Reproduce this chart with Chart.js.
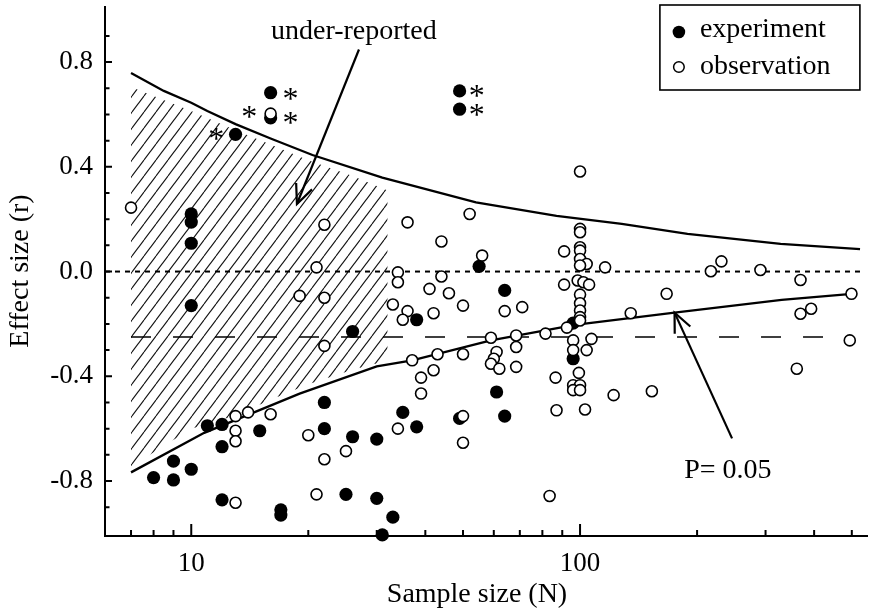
<!DOCTYPE html>
<html>
<head>
<meta charset="utf-8">
<script src="https://cdn.jsdelivr.net/npm/chart.js@4.4.1/dist/chart.umd.min.js"></script>
<style>
  html, body { margin: 0; padding: 0; background: #fff; }
  canvas { display: block; }
</style>
</head>
<body>
<canvas id="funnel-canvas" width="875" height="615"></canvas>
<script>
// sample size (N) and effect size (r)
var expN = [13, 16, 16, 49, 49, 10, 10, 10, 10, 55, 64, 38, 26, 96, 96, 61, 64, 49,
  22, 35, 38, 22, 26, 30, 25, 30, 33, 31, 11, 12, 12, 15, 9, 10, 8, 9, 12, 17, 17]
var expR = [0.524, 0.683, 0.587, 0.69, 0.62, 0.22, 0.189, 0.108, -0.13, 0.02, -0.072, -0.184, -0.229, -0.197, -0.333, -0.46, -0.552, -0.561,
  -0.50, -0.538, -0.593, -0.60, -0.631, -0.64, -0.851, -0.866, -0.938, -1.006, -0.589, -0.584, -0.669, -0.608, -0.724, -0.755, -0.787, -0.796, -0.872, -0.91, -0.93]

var obsN = [7, 16, 22, 36, 52, 44, 91, 56, 21, 34, 34, 44, 91, 41, 46, 19, 22,
  100, 116, 217, 231, 291, 369, 499, 167, 135, 369, 393, 494, 361, 153, 122, 103, 87, 107, 104, 83.5,
  13, 14, 16, 13, 13, 13, 50, 33, 36, 35, 42, 22, 37, 43, 50, 39, 42, 39,
  59, 61, 60, 59, 62, 34, 50, 50, 20, 25, 22, 21, 64, 71, 68.5, 81.5, 68.5, 68.5, 86.5,
  100, 100, 100, 100, 100, 104, 100, 98.6, 102, 105.5, 100, 100, 100, 100, 100,
  92.5, 96, 96, 99.3, 96, 100, 96, 100]
var obsR = [0.244, 0.603, 0.179, 0.188, 0.22, 0.115, 0.077, 0.061, 0.016, -0.003, -0.041, -0.019, -0.05, -0.066, -0.083, -0.093, -0.10,
  0.382, 0.016, 0.001, 0.039, 0.006, -0.032, -0.085, -0.085, -0.159, -0.161, -0.142, -0.263, -0.371, -0.457, -0.472, -0.527, -0.53, -0.257, -0.30, -0.857,
  -0.552, -0.538, -0.545, -0.608, -0.648, -0.883, -0.13, -0.126, -0.151, -0.184, -0.159, -0.284, -0.339, -0.316, -0.316, -0.405, -0.377, -0.466,
  -0.253, -0.307, -0.333, -0.352, -0.371, -0.60, -0.552, -0.654, -0.625, -0.686, -0.717, -0.851, -0.151, -0.136, -0.244, -0.237, -0.288, -0.364, -0.405,
  0.163, 0.150, 0.093, 0.08, 0.048, 0.029, 0.023, -0.034, -0.041, -0.05, -0.088, -0.121, -0.149, -0.174, -0.187,
  -0.214, -0.263, -0.30, -0.387, -0.434, -0.434, -0.453, -0.453]

// P = 0.05 boundaries
var upN = [7, 8.5, 10, 11, 13, 16, 20.5, 31, 54, 87, 128, 189, 328, 525]
var upR = [0.758, 0.69, 0.645, 0.613, 0.563, 0.508, 0.445, 0.359, 0.264, 0.213, 0.182, 0.144, 0.106, 0.086]
var loN = [7, 10.8, 19, 30, 37, 59, 97, 175, 330, 500]
var loR = [-0.767, -0.616, -0.466, -0.362, -0.339, -0.263, -0.204, -0.157, -0.108, -0.085]

// hatched "under-reported" area
var hatchN = [7, 10, 13, 16, 20, 26, 32]
var hatchTop = [0.705, 0.613, 0.54, 0.485, 0.425, 0.365, 0.31]
var hatchBot = [-0.745, -0.60, -0.55, -0.49, -0.43, -0.375, -0.34]

// reference lines
var zeroN = [6, 530]
var zeroR = [0, 0]
var meanN = [7, 490]
var meanR = [-0.25, -0.25]

// asterisks next to flagged studies
var astN = [11.6, 14.1, 18, 18, 54.2, 54.2]
var astR = [0.531, 0.613, 0.683, 0.59, 0.692, 0.62]

var xMajor = [10, 100]
var xMinor = [7, 8, 9, 20, 30, 40, 50, 60, 70, 80, 90, 200, 300, 400, 500]
var yMajor = [-0.8, -0.4, 0, 0.4, 0.8]
var yMinor = [-0.9, -0.7, -0.6, -0.5, -0.3, -0.2, -0.1, 0.1, 0.2, 0.3, 0.5, 0.6, 0.7, 0.9]

var serif = "'Liberation Serif', 'Times New Roman', serif"

function pts(ns, rs) {
  return ns.map(function (n, i) { return { x: n, y: rs[i] } })
}

function hatchPattern(ctx) {
  var c = document.createElement('canvas')
  c.width = 12
  c.height = 16
  var g = c.getContext('2d')
  g.strokeStyle = '#111'
  g.lineWidth = 1.1
  ;[-12, 0, 12].forEach(function (dx) {
    g.beginPath()
    g.moveTo(dx, 16)
    g.lineTo(dx + 12, 0)
    g.stroke()
  })
  return ctx.createPattern(c, 'repeat')
}

function arrow(ctx, x0, y0, x1, y1) {
  ctx.beginPath()
  ctx.moveTo(x0, y0)
  ctx.lineTo(x1, y1)
  ctx.stroke()
  var a = Math.atan2(y0 - y1, x0 - x1)
  var len = 21, spread = 0.42
  ctx.beginPath()
  ctx.moveTo(x1 + len * Math.cos(a - spread), y1 + len * Math.sin(a - spread))
  ctx.lineTo(x1, y1)
  ctx.lineTo(x1 + len * Math.cos(a + spread), y1 + len * Math.sin(a + spread))
  ctx.stroke()
}

var decor = {
  id: 'decor',
  afterDraw: function (chart) {
    var ctx = chart.ctx
    var xs = chart.scales.x, ys = chart.scales.y
    var area = chart.chartArea
    ctx.save()
    ctx.strokeStyle = '#000'
    ctx.fillStyle = '#000'

    // inward ticks
    ctx.lineWidth = 2
    ctx.beginPath()
    xMajor.forEach(function (v) {
      var x = xs.getPixelForValue(v)
      ctx.moveTo(x, area.bottom); ctx.lineTo(x, area.bottom - 12)
    })
    xMinor.forEach(function (v) {
      var x = xs.getPixelForValue(v)
      ctx.moveTo(x, area.bottom); ctx.lineTo(x, area.bottom - 6)
    })
    yMajor.forEach(function (v) {
      var y = ys.getPixelForValue(v)
      ctx.moveTo(area.left, y); ctx.lineTo(area.left + 7, y)
    })
    yMinor.forEach(function (v) {
      var y = ys.getPixelForValue(v)
      ctx.moveTo(area.left, y); ctx.lineTo(area.left + 4.5, y)
    })
    ctx.stroke()

    // axis titles
    ctx.font = '28px ' + serif
    ctx.textAlign = 'center'
    ctx.textBaseline = 'alphabetic'
    ctx.fillText('Sample size (N)', 477, 602)
    ctx.save()
    ctx.translate(28, 271)
    ctx.rotate(-Math.PI / 2)
    ctx.fillText('Effect size (r)', 0, 0)
    ctx.restore()

    // annotations
    ctx.fillText('under-reported', xs.getPixelForValue(26.2), ys.getPixelForValue(0.89))
    ctx.fillText('P= 0.05', xs.getPixelForValue(240), ys.getPixelForValue(-0.788))
    ctx.lineWidth = 2.2
    arrow(ctx, xs.getPixelForValue(27), ys.getPixelForValue(0.848), xs.getPixelForValue(18.7), ys.getPixelForValue(0.258))
    arrow(ctx, xs.getPixelForValue(246), ys.getPixelForValue(-0.637), xs.getPixelForValue(175), ys.getPixelForValue(-0.157))

    // asterisks
    ctx.font = '32px ' + serif
    astN.forEach(function (n, i) {
      ctx.fillText('*', xs.getPixelForValue(n), ys.getPixelForValue(astR[i]) + 16)
    })

    // legend
    var bx = area.right - 208, by = 5
    ctx.lineWidth = 1.6
    ctx.strokeRect(bx, by, 200, 85)
    ctx.beginPath()
    ctx.arc(bx + 19, by + 27, 6.3, 0, Math.PI * 2)
    ctx.fill()
    ctx.beginPath()
    ctx.arc(bx + 19, by + 62, 5.3, 0, Math.PI * 2)
    ctx.fillStyle = '#fff'
    ctx.fill()
    ctx.lineWidth = 1.5
    ctx.stroke()
    ctx.fillStyle = '#000'
    ctx.font = '28px ' + serif
    ctx.textAlign = 'left'
    ctx.fillText('experiment', bx + 40, by + 32)
    ctx.fillText('observation', bx + 40, by + 69)
    ctx.restore()
  }
}

var canvas = document.getElementById('funnel-canvas')
var ctx = canvas.getContext('2d')

var lineStyle = { showLine: true, pointRadius: 0, borderColor: '#000', borderWidth: 2.3, tension: 0, fill: false }

var funnelChart = new Chart(ctx, {
  type: 'scatter',
  data: {
    datasets: [
      {
        label: 'observation',
        data: pts(obsN, obsR),
        pointRadius: 5.5,
        pointBorderWidth: 1.6,
        backgroundColor: '#fff',
        borderColor: '#000',
        clip: false
      },
      {
        label: 'experiment',
        data: pts(expN, expR),
        pointRadius: 6.6,
        pointBorderWidth: 0,
        backgroundColor: '#000',
        borderColor: '#000',
        clip: false
      },
      Object.assign({ label: 'upper', data: pts(upN, upR) }, lineStyle),
      Object.assign({ label: 'lower', data: pts(loN, loR) }, lineStyle),
      Object.assign({ label: 'zero', data: pts(zeroN, zeroR) }, lineStyle, { borderWidth: 2, borderDash: [5, 5] }),
      Object.assign({ label: 'mean', data: pts(meanN, meanR) }, lineStyle, { borderWidth: 1.5, borderDash: [20, 22] }),
      {
        label: 'hatch-top',
        data: pts(hatchN, hatchTop),
        showLine: true,
        pointRadius: 0,
        borderColor: 'rgba(0,0,0,0)',
        borderWidth: 1,
        backgroundColor: hatchPattern(ctx),
        fill: '+1'
      },
      {
        label: 'hatch-bottom',
        data: pts(hatchN, hatchBot),
        showLine: true,
        pointRadius: 0,
        borderColor: 'rgba(0,0,0,0)',
        borderWidth: 1,
        fill: false
      }
    ]
  },
  options: {
    responsive: false,
    animation: false,
    events: [],
    layout: { padding: { top: 7, left: 0, right: 0, bottom: 0 } },
    plugins: {
      legend: { display: false },
      tooltip: { enabled: false }
    },
    scales: {
      x: {
        type: 'logarithmic',
        min: 6,
        max: 550,
        afterBuildTicks: function (s) { s.ticks = xMajor.map(function (v) { return { value: v } }) },
        afterFit: function (s) { s.height = 79; s.paddingLeft = 0; s.paddingRight = 0 },
        grid: { display: false, drawTicks: false },
        border: { display: true, color: '#000', width: 2 },
        ticks: {
          autoSkip: false,
          maxRotation: 0,
          padding: 12,
          color: '#000',
          font: { family: serif, size: 27 },
          callback: function (v) { return String(v) }
        }
      },
      y: {
        min: -1.01,
        max: 1.01,
        afterBuildTicks: function (s) { s.ticks = yMajor.map(function (v) { return { value: v } }) },
        afterFit: function (s) { s.width = 105; s.paddingTop = 0; s.paddingBottom = 0 },
        grid: { display: false, drawTicks: false },
        border: { display: true, color: '#000', width: 2 },
        ticks: {
          autoSkip: false,
          padding: 12,
          color: '#000',
          font: { family: serif, size: 27 },
          callback: function (v) { return Number(v).toFixed(1) }
        }
      }
    }
  },
  plugins: [decor]
})
</script>
</body>
</html>
